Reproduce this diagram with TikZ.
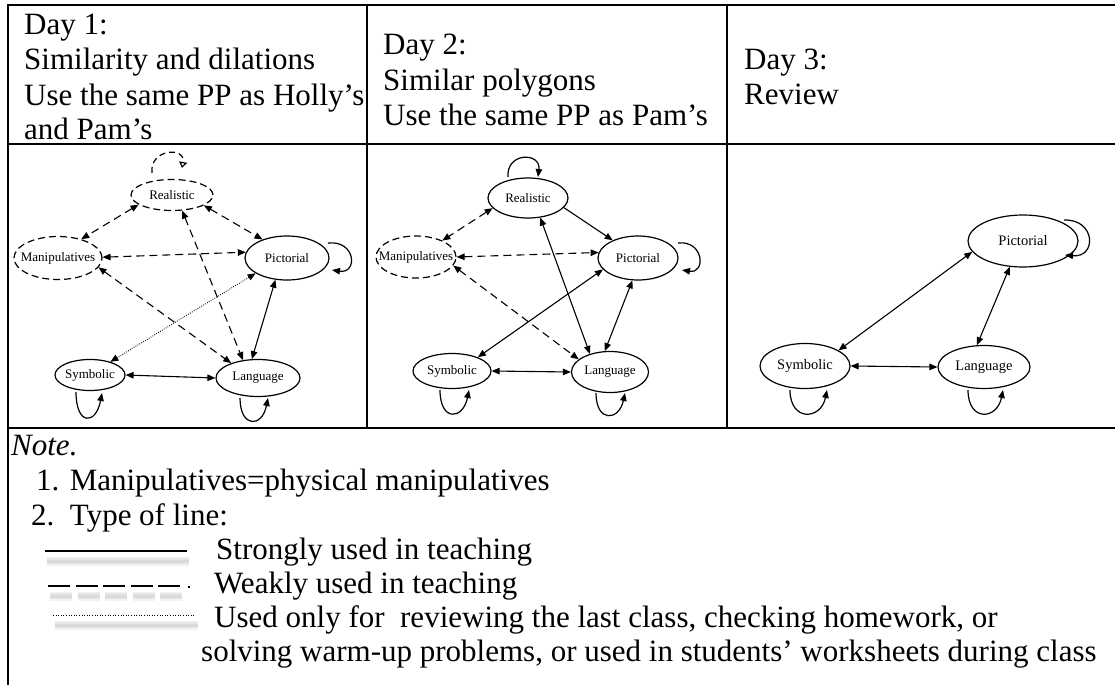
\documentclass[tikz,border=0pt]{standalone}
\usepackage{fontspec}
\setmainfont{Liberation Serif}
\usetikzlibrary{arrows.meta,shapes.geometric}
\begin{document}
\begin{tikzpicture}[x=1pt, y=-1pt,
  >={Triangle[length=8pt,width=6.5pt]},
  tbl/.style={line width=2pt},
  txt/.style={anchor=base west, inner sep=0pt, font=\fontsize{31}{35}\selectfont},
  rep/.style={ellipse, draw, line width=1.2pt, inner sep=0pt, font=\fontsize{13}{15}\selectfont},
  repbig/.style={rep, font=\fontsize{14.5}{16}\selectfont},
  weakrep/.style={rep, dash pattern=on 7pt off 4pt},
  strong/.style={line width=1.1pt, <->},
  strongto/.style={line width=1.1pt, ->},
  weak/.style={line width=1.1pt, <->, dash pattern=on 8pt off 5pt},
  review/.style={line width=0.9pt, <->, dash pattern=on 0.8pt off 1.4pt},
  selfloop/.style={line width=1.2pt, ->},
  weakloop/.style={line width=1.2pt, dash pattern=on 6pt off 4pt,
    -{Triangle[open,length=6pt,width=8pt]}},
  haze/.style={line width=#1, black, opacity=0.05},
]
\useasboundingbox (0,0) rectangle (1115,685);

% table rules
\draw[tbl] (8,5) -- (1115,5);
\draw[tbl] (8,4) -- (8,685);
\draw[tbl] (8,144) -- (1115,144);
\draw[tbl] (8,428) -- (1115,428);
\draw[tbl] (367,4) -- (367,428);
\draw[tbl] (727,4) -- (727,428);

% header cells
\node[txt] (h1a) at (24,35)  {Day 1:};
\node[txt] (h1b) at (24,70)  {Similarity and dilations};
\node[txt] (h1c) at (24,105) {Use the same PP as Holly’s};
\node[txt] (h1d) at (24,139) {and Pam’s};
\node[txt] (h2a) at (383,55)  {Day 2:};
\node[txt] (h2b) at (383,90)  {Similar polygons};
\node[txt] (h2c) at (383,125) {Use the same PP as Pam’s};
\node[txt] (h3a) at (744,70)  {Day 3:};
\node[txt] (h3b) at (744,104) {Review};

% ---- Day 1 ----
\node[weakrep, minimum width=82pt, minimum height=31pt] (r1) at (172,195) {\makebox[0pt]{Realistic}};
\node[weakrep, minimum width=88pt, minimum height=43pt] (m1) at (58,258) {\makebox[0pt]{Manipulatives}};
\node[rep, minimum width=84pt, minimum height=44pt] (p1) at (287,258) {\makebox[0pt]{Pictorial}};
\node[rep, minimum width=70pt, minimum height=31pt] (s1) at (90,375) {\makebox[0pt]{Symbolic}};
\node[rep, minimum width=84pt, minimum height=37pt] (l1) at (258,378) {\makebox[0pt]{Language}};

\draw[weak] (r1.196) -- (m1.39);
\draw[weak] (r1.342) -- (p1.143);
\draw[weak] (m1.1) -- (p1.172);
\draw[weak] (m1.347) -- (l1.151);
\draw[weak] (r1.303) -- (l1.130);
\draw[review] (p1.206) -- (s1.33);
\draw[strong] (p1.242) -- (l1.108);
\draw[strong] (s1.0) -- (l1.180);

\draw[weakloop] ([shift={(-20,-22)}]r1.center) .. controls +(-3,-24) and +(4,-22) .. ([shift={(10,-27)}]r1.center);
\draw[selfloop] ([shift={(41,-15)}]p1.center) .. controls +(28,-3) and +(26,4) .. ([shift={(45,12)}]p1.center);
\draw[selfloop] ([shift={(-14,17)}]s1.center) .. controls +(0,34) and +(-6,32) .. ([shift={(12,18)}]s1.center);
\draw[selfloop] ([shift={(-18,20)}]l1.center) .. controls +(0,30) and +(-6,30) .. ([shift={(10,20)}]l1.center);

% ---- Day 2 ----
\node[rep, minimum width=80pt, minimum height=40pt] (r2) at (528,198) {\makebox[0pt]{Realistic}};
\node[weakrep, minimum width=80pt, minimum height=42pt] (m2) at (416,257) {\makebox[0pt]{Manipulatives}};
\node[rep, minimum width=80pt, minimum height=44pt] (p2) at (638,258) {\makebox[0pt]{Pictorial}};
\node[rep, minimum width=78pt, minimum height=35pt] (s2) at (452,371) {\makebox[0pt]{Symbolic}};
\node[rep, minimum width=77pt, minimum height=41pt] (l2) at (610,372) {\makebox[0pt]{Language}};

\draw[weak] (r2.196) -- (m2.32);
\draw[strongto] (r2.345) -- (p2.145);
\draw[weak] (m2.0) -- (p2.172);
\draw[weak] (m2.347) -- (l2.158);
\draw[strong] (r2.302) -- (l2.138);
\draw[strong] (p2.198) -- (s2.28);
\draw[strong] (p2.256) -- (l2.104);
\draw[strong] (s2.0) -- (l2.180);

\draw[selfloop] ([shift={(-20,-21)}]r2.center) .. controls +(-2,-25) and +(3,-25) .. ([shift={(10,-21)}]r2.center);
\draw[selfloop] ([shift={(40,-15)}]p2.center) .. controls +(26,-3) and +(24,4) .. ([shift={(44,12)}]p2.center);
\draw[selfloop] ([shift={(-12,19)}]s2.center) .. controls +(0,32) and +(-6,30) .. ([shift={(17,19)}]s2.center);
\draw[selfloop] ([shift={(-14,21)}]l2.center) .. controls +(0,30) and +(-6,28) .. ([shift={(15,21)}]l2.center);

% ---- Day 3 ----
\node[repbig, minimum width=110pt, minimum height=52pt] (p3) at (1023,241) {\makebox[0pt]{Pictorial}};
\node[repbig, minimum width=90pt, minimum height=45pt] (s3) at (805,366) {\makebox[0pt]{Symbolic}};
\node[repbig, minimum width=92pt, minimum height=43pt] (l3) at (984,367) {\makebox[0pt]{Language}};

\draw[strong] (p3.192) -- (s3.25);
\draw[strong] (p3.243) -- (l3.108);
\draw[strong] (s3.0) -- (l3.180);

\draw[selfloop] ([shift={(41,-21)}]p3.center) .. controls +(32,-1) and +(32,3) .. ([shift={(42,14)}]p3.center);
\draw[selfloop] ([shift={(-15,24)}]s3.center) .. controls +(0,32) and +(-6,30) .. ([shift={(22,24)}]s3.center);
\draw[selfloop] ([shift={(-16,23)}]l3.center) .. controls +(0,32) and +(-6,30) .. ([shift={(19,23)}]l3.center);

% ---- note and legend ----
\node[txt, font=\fontsize{31}{35}\selectfont\itshape] (nt) at (11,455) {Note.};
\node[txt] (n1) at (36,490) {1. Manipulatives=physical manipulatives};
\node[txt] (n2) at (31,525) {2.\ \ Type of line:};

% soft shadows under the sample lines
\foreach \w in {9pt,6pt,3pt} {
  \draw[haze=\w] (47,561) -- (189,561);
  \draw[haze=\w, dash pattern=on 22pt off 5.5pt] (50,596) -- (182,596);
  \draw[haze=\w] (55,625) -- (198,625);
}
\draw[line width=2.4pt] (45,551) -- (187,551);
\draw[line width=2.2pt, dash pattern=on 22pt off 5.5pt] (48,586) -- (180,586);
\draw[line width=1.2pt] (188,587) -- (190,587);
\draw[line width=1pt, dash pattern=on 1pt off 1.6pt] (53,615) -- (196,615);

\node[txt] (lg1) at (216,559) {Strongly used in teaching};
\node[txt] (lg2) at (214,593) {Weakly used in teaching};
\node[txt] (lg3) at (214,627) {Used only for\ \ reviewing the last class, checking homework, or};
\node[txt] (lg4) at (201,661) {solving warm-up problems, or used in students’ worksheets during class};
\end{tikzpicture}
\end{document}
